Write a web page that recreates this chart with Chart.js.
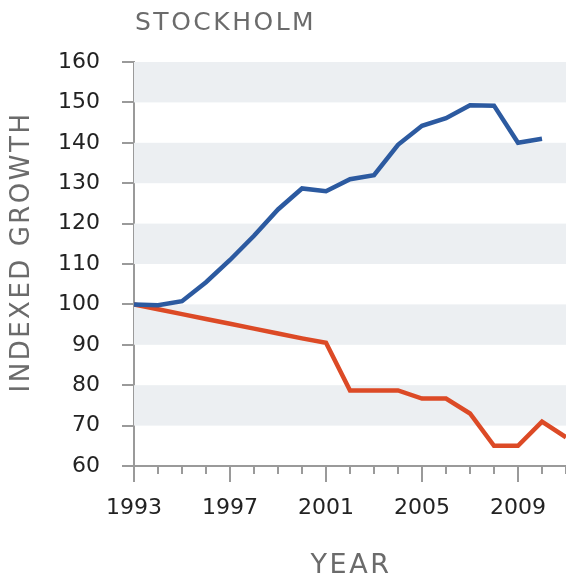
<!DOCTYPE html>
<html>
<head>
<meta charset="utf-8">
<script src="https://cdn.jsdelivr.net/npm/chart.js@4/dist/chart.umd.min.js"></script>
<style>
  html, body { margin: 0; padding: 0; background: #fff; }
  #wrap { width: 566px; height: 581px; }
</style>
</head>
<body>
<div id="wrap"><canvas id="chart" width="566" height="581"></canvas></div>
<script>
// data
const years = [1993, 1994, 1995, 1996, 1997, 1998, 1999, 2000, 2001, 2002,
               2003, 2004, 2005, 2006, 2007, 2008, 2009, 2010, 2011];
const blueSeries = [100, 99.8, 100.8, 105.5, 111, 117, 123.5, 128.7, 128, 131,
                    132, 139.5, 144.2, 146.1, 149.3, 149.2, 140, 141, null];
const redSeries = [100, 98.8, 97.6, 96.4, 95.2, 94, 92.8, 91.6, 90.5, 78.7,
                   78.7, 78.7, 76.7, 76.7, 73, 65, 65, 71, 67.1];
const bandRanges = [[150, 160], [130, 140], [110, 120], [90, 100], [70, 80]];
const yTicks = [60, 70, 80, 90, 100, 110, 120, 130, 140, 150, 160];
const xLabelYears = [1993, 1997, 2001, 2005, 2009];

const FONT = "'DejaVu Sans', sans-serif";
const axisGray = '#9a9a9a';

// shaded bands + titles + minor year ticks
const decor = {
  id: 'decor',
  beforeDatasetsDraw(chart) {
    const { ctx, chartArea, scales } = chart;
    ctx.save();
    ctx.fillStyle = '#eceff2';
    bandRanges.forEach(([lo, hi]) => {
      const y1 = scales.y.getPixelForValue(hi);
      const y2 = scales.y.getPixelForValue(lo);
      ctx.fillRect(chartArea.left, y1, chartArea.right - chartArea.left, y2 - y1);
    });
    ctx.restore();
  },
  afterDraw(chart) {
    const { ctx, chartArea, scales } = chart;
    ctx.save();
    // minor ticks every year
    ctx.strokeStyle = axisGray;
    ctx.lineWidth = 2;
    const yb = scales.y.getPixelForValue(60);
    years.forEach(yr => {
      if (xLabelYears.includes(yr)) return;
      const x = Math.round(scales.x.getPixelForValue(yr));
      ctx.beginPath();
      ctx.moveTo(x, yb);
      ctx.lineTo(x, yb + 8);
      ctx.stroke();
    });

    ctx.fillStyle = '#6b6b6b';
    ctx.letterSpacing = '2.5px';
    ctx.font = '25px ' + FONT;
    ctx.textAlign = 'left';
    ctx.textBaseline = 'middle';
    ctx.fillText('STOCKHOLM', chartArea.left + 1, 23);

    ctx.font = '27px ' + FONT;
    ctx.textAlign = 'center';
    ctx.fillText('YEAR', (chartArea.left + chartArea.right) / 2 + 1, 566);

    ctx.translate(22, 253);
    ctx.rotate(-Math.PI / 2);
    ctx.letterSpacing = '2.5px';
    ctx.font = '26px ' + FONT;
    ctx.fillText('INDEXED GROWTH', 1, 0);
    ctx.restore();
  }
};

new Chart(document.getElementById('chart'), {
  type: 'line',
  data: {
    labels: years,
    datasets: [
      {
        label: 'Series A',
        data: years.map((yr, i) => ({ x: yr, y: blueSeries[i] })),
        borderColor: '#2c5aa0',
        borderWidth: 4.5,
        pointRadius: 0,
        tension: 0,
        fill: false
      },
      {
        label: 'Series B',
        data: years.map((yr, i) => ({ x: yr, y: redSeries[i] })),
        borderColor: '#dc4a26',
        borderWidth: 4.5,
        pointRadius: 0,
        tension: 0,
        fill: false
      }
    ]
  },
  options: {
    responsive: false,
    animation: false,
    layout: { padding: { top: 62, left: 0, right: 0, bottom: 0 } },
    plugins: {
      legend: { display: false },
      tooltip: { enabled: false }
    },
    scales: {
      x: {
        type: 'linear',
        min: 1993,
        max: 2011,
        afterFit: (scale) => { scale.height = 115; },
        afterBuildTicks: (scale) => {
          scale.ticks = xLabelYears.map(v => ({ value: v }));
        },
        border: { color: axisGray, width: 2 },
        grid: { drawOnChartArea: false, tickLength: 16, color: axisGray, lineWidth: 2 },
        ticks: {
          color: '#222',
          font: { family: FONT, size: 22 },
          padding: 13,
          maxRotation: 0,
          autoSkip: false,
          callback: (v) => String(v)
        }
      },
      y: {
        min: 60,
        max: 160,
        afterFit: (scale) => { scale.width = 134; },
        afterBuildTicks: (scale) => {
          scale.ticks = yTicks.map(v => ({ value: v }));
        },
        border: { color: axisGray, width: 2 },
        grid: { drawOnChartArea: false, tickLength: 12, color: axisGray, lineWidth: 2 },
        ticks: {
          color: '#222',
          font: { family: FONT, size: 22 },
          padding: 22
        }
      }
    }
  },
  plugins: [decor]
});
</script>
</body>
</html>
